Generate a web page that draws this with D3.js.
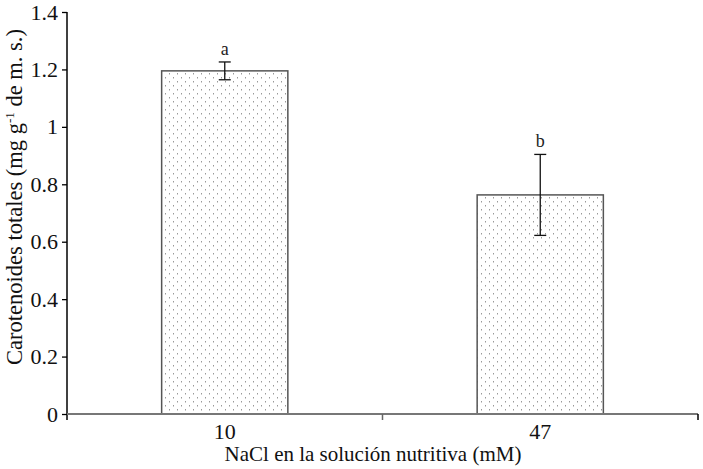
<!DOCTYPE html>
<html><head><meta charset="utf-8">
<script src="https://cdn.jsdelivr.net/npm/d3@7"></script>
<style>body{margin:0;background:#fff}svg{display:block}</style>
</head><body>
<script>
const categories = ["10", "47"];
const values = [1.195, 0.763];
const errors = [0.031, 0.141];
const letters = ["a", "b"];
const yTicks = [0, 0.2, 0.4, 0.6, 0.8, 1, 1.2, 1.4];

const W = 703, H = 469;
const FONT = "Liberation Serif";
const svg = d3.select("body").append("svg").attr("width", W).attr("height", H);

const defs = svg.append("defs");
const pat = defs.append("pattern").attr("id", "dots").attr("patternUnits", "userSpaceOnUse")
  .attr("width", 8).attr("height", 8).attr("x", 0).attr("y", 0);
pat.append("rect").attr("width", 8).attr("height", 8).attr("fill", "#fff");
pat.append("rect").attr("x", 1).attr("y", 1).attr("width", 1).attr("height", 1.5).attr("fill", "#999");
pat.append("rect").attr("x", 5).attr("y", 5).attr("width", 1).attr("height", 1.5).attr("fill", "#999");

const x = d3.scaleBand().domain(categories).range([67, 698]).paddingInner(0).paddingOuter(0);
const y = d3.scaleLinear().domain([0, 1.4]).range([414, 12]);
const bw = x.bandwidth() * 0.4;

// bars
svg.selectAll("rect.bar").data(categories).join("rect").attr("class", "bar")
  .attr("x", d => x(d) + (x.bandwidth() - bw) / 2)
  .attr("y", (d, i) => y(values[i]))
  .attr("width", bw)
  .attr("height", (d, i) => y(0) - y(values[i]))
  .attr("fill", "url(#dots)")
  .attr("stroke", "#555").attr("stroke-width", 1.5);

// error bars
const eg = svg.selectAll("g.err").data(categories).join("g").attr("class", "err")
  .attr("transform", d => `translate(${x(d) + x.bandwidth() / 2},0)`);
eg.append("line").attr("x1", 0).attr("x2", 0)
  .attr("y1", (d, i) => y(values[i] + errors[i])).attr("y2", (d, i) => y(values[i] - errors[i]))
  .attr("stroke", "#111").attr("stroke-width", 1.3);
eg.append("line").attr("x1", -6).attr("x2", 6)
  .attr("y1", (d, i) => y(values[i] + errors[i])).attr("y2", (d, i) => y(values[i] + errors[i]))
  .attr("stroke", "#111").attr("stroke-width", 1.3);
eg.append("line").attr("x1", -6).attr("x2", 6)
  .attr("y1", (d, i) => y(values[i] - errors[i])).attr("y2", (d, i) => y(values[i] - errors[i]))
  .attr("stroke", "#111").attr("stroke-width", 1.3);
eg.append("text").attr("x", 0).attr("y", (d, i) => y(values[i] + errors[i]) - 7)
  .attr("text-anchor", "middle").style("font-family", FONT).style("font-size", "18px").attr("fill", "#222")
  .text((d, i) => letters[i]);

// y axis
const ya = svg.append("g").attr("transform", "translate(67,0)")
  .call(d3.axisLeft(y).tickValues(yTicks).tickSize(5).tickPadding(4).tickFormat(d => d3.format("")(+d.toFixed(1))));
ya.select(".domain").attr("stroke", "#000").attr("stroke-width", 1.5).attr("d", "M0,12V420");
ya.selectAll(".tick line").attr("stroke", "#000").attr("stroke-width", 1.3);
ya.selectAll(".tick text").style("font-family", FONT).style("font-size", "22px").attr("fill", "#111");

// x axis
const xa = svg.append("g").attr("transform", "translate(0,414)")
  .call(d3.axisBottom(x).tickSize(0).tickPadding(9));
xa.select(".domain").attr("stroke", "#777").attr("stroke-width", 2).attr("d", "M67,0H698");
xa.selectAll(".tick text").style("font-family", FONT).style("font-size", "22px").attr("fill", "#111");
// boundary ticks
xa.selectAll("line.bt").data(categories).join("line").attr("class", "bt")
  .attr("x1", d => x(d) + x.bandwidth()).attr("x2", d => x(d) + x.bandwidth())
  .attr("y1", 0).attr("y2", 6).attr("stroke", (d, i) => i === categories.length - 1 ? "#000" : "#666")
  .attr("stroke-width", 1.5);

// axis titles
svg.append("text").attr("x", 373).attr("y", 461).attr("text-anchor", "middle")
  .style("font-family", FONT).style("font-size", "21px").attr("fill", "#111")
  .text("NaCl en la solución nutritiva (mM)");
const yt = svg.append("text").attr("transform", "translate(22,197) rotate(-90)").attr("text-anchor", "middle")
  .style("font-family", FONT).style("font-size", "22.5px").attr("fill", "#111");
yt.append("tspan").text("Carotenoides totales (mg g");
yt.append("tspan").attr("dy", -8).style("font-size", "13px").text("-1");
yt.append("tspan").attr("dy", 8).text(" de m. s.)");
</script>
</body></html>
